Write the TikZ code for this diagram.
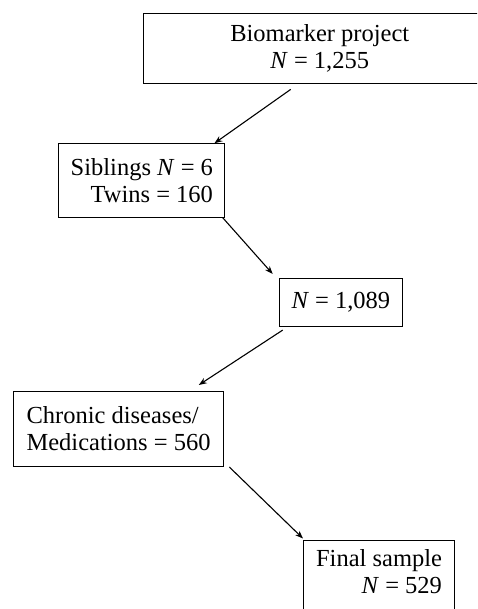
\documentclass[tikz,border=0pt]{standalone}
\usepackage{fontspec}
\setmainfont{Liberation Serif}
\usetikzlibrary{arrows.meta}

\begin{document}
\begin{tikzpicture}[x=1pt,y=1pt,
    box/.style={draw,line width=1.1pt,anchor=north west,inner sep=0pt,font=\fontsize{24.5}{27}\selectfont},
    arr/.style={-{Stealth[length=8pt,width=6pt]},line width=1.1pt}]
    \useasboundingbox (0,0) rectangle (477,609);
    \clip (0,0) rectangle (477,609);

    \node[box,minimum width=353pt,minimum height=69.4pt,align=center](bio)at(142.7,595.7){Biomarker project\\\textit{N} = 1,255};%一番上
    \node[box,minimum width=166pt,minimum height=73.4pt,align=right](sib)at(58.3,465.7){Siblings \textit{N} = 6\\Twins = 160};
    \node[box,minimum width=122.7pt,minimum height=48pt](all)at(279,331.3){\textit{N} = 1,089};
    \node[box,minimum width=209.4pt,minimum height=75pt,align=left](chr)at(13.3,218){Chronic diseases/\\Medications = 560};
    \node[box,minimum width=151pt,inner ysep=9pt,text depth=60pt,align=right](fin)at(303,69){Final sample\\\textit{N} = 529};%下は切れる

    \draw[arr]([xshift=148pt,yshift=-5.6pt]bio.south west)--([xshift=-11pt]sib.north east);
    \draw[arr]([xshift=-2.6pt]sib.south east)--([xshift=-6.3pt,yshift=3.7pt]all.north west);
    \draw[arr]([xshift=3.7pt,yshift=-3.3pt]all.south west)--([xshift=-25pt,yshift=6pt]chr.north east);
    \draw[arr]([xshift=5.6pt]chr.south east)--([yshift=1.5pt]fin.north west);
\end{tikzpicture}
\end{document}
